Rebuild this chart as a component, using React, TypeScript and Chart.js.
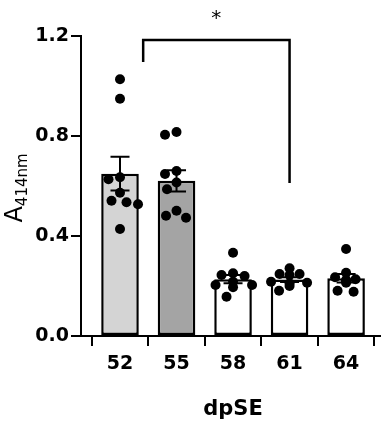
import React, { useEffect, useRef } from 'react';
import { Chart, registerables } from 'chart.js';

Chart.register(...registerables);

// ---- data ----
const categories = ['52', '55', '58', '61', '64'];
const values52 = [1.027, 0.949, 0.635, 0.627, 0.573, 0.541, 0.535, 0.527, 0.428];
const values55 = [0.816, 0.805, 0.66, 0.648, 0.614, 0.587, 0.501, 0.481, 0.473];
const values58 = [0.333, 0.251, 0.244, 0.24, 0.217, 0.204, 0.204, 0.195, 0.157];
const values61 = [0.271, 0.248, 0.248, 0.244, 0.217, 0.213, 0.211, 0.2, 0.181];
const values64 = [0.348, 0.253, 0.235, 0.227, 0.224, 0.22, 0.213, 0.181, 0.177];
const groups = [values52, values55, values58, values61, values64];
const barColors = ['#d4d4d4', '#a4a4a4', '#ffffff', '#ffffff', '#ffffff'];
const yTicks = [0, 0.4, 0.8, 1.2];
const xTitle = 'dpSE';
const yTitleMain = 'A';
const yTitleSub = '414nm';
// significance bracket: from between 52/55 to 61
const sigStart = 0.41;
const sigEnd = 3;
const sigTop = 1.184;
const sigLeftBottom = 1.096;
const sigRightBottom = 0.612;
const sigLabel = '*';
const sigLabelValue = 1.284;

const FONT = "'DejaVu Sans', 'Liberation Sans', Arial, sans-serif";

const mean = (a: number[]) => a.reduce((s, v) => s + v, 0) / a.length;
const sem = (a: number[]) => {
  const m = mean(a);
  const v = a.reduce((s, x) => s + (x - m) * (x - m), 0) / (a.length - 1);
  return Math.sqrt(v) / Math.sqrt(a.length);
};

// simple beeswarm: offsets in category units
function swarm(vals: number[], pxPerX: number, pxPerY: number, dist: number) {
  const order = vals.map((v, i) => i).sort((a, b) => vals[b] - vals[a]);
  const placed: { x: number; y: number }[] = [];
  const out: number[] = new Array(vals.length).fill(0);
  for (const i of order) {
    const y = vals[i] * pxPerY;
    let best = 0;
    const candidates: number[] = [0];
    for (let k = 1; k < 40; k++) {
      candidates.push(-k * 0.5, k * 0.5);
    }
    for (const c of candidates) {
      const ok = placed.every((p) => Math.hypot(p.x - c, p.y - y) >= dist);
      if (ok) {
        best = c;
        break;
      }
    }
    placed.push({ x: best, y });
    out[i] = best / pxPerX;
  }
  return out;
}

export default function App() {
  const ref = useRef<HTMLCanvasElement | null>(null);

  useEffect(() => {
    if (!ref.current) return;
    const means = groups.map(mean);
    const sems = groups.map(sem);
    const points: { x: number; y: number }[] = [];
    groups.forEach((g, gi) => {
      const offs = swarm(g, 56.5, 250, 11.5);
      g.forEach((v, j) => points.push({ x: gi + offs[j], y: v }));
    });

    const errorBars = {
      id: 'errorBars',
      afterDatasetDraw(chart: any, args: any) {
        if (args.index !== 0) return;
        const ctx = chart.ctx;
        const ys = chart.scales.y;
        const meta = chart.getDatasetMeta(0);
        ctx.save();
        ctx.strokeStyle = '#000';
        ctx.lineWidth = 2;
        meta.data.forEach((el: any, i: number) => {
          const x = el.x;
          const top = ys.getPixelForValue(means[i] + sems[i]);
          const bot = ys.getPixelForValue(means[i] - sems[i]);
          const cap = 9.5;
          ctx.beginPath();
          ctx.moveTo(x, top);
          ctx.lineTo(x, bot);
          ctx.moveTo(x - cap, top);
          ctx.lineTo(x + cap, top);
          ctx.moveTo(x - cap, bot);
          ctx.lineTo(x + cap, bot);
          ctx.stroke();
        });
        ctx.restore();
      },
    };

    const annotations = {
      id: 'annotations',
      afterDraw(chart: any) {
        const ctx = chart.ctx;
        const xs = chart.scales.x;
        const ys = chart.scales.y;
        ctx.save();
        // bracket
        ctx.strokeStyle = '#000';
        ctx.lineWidth = 2.5;
        ctx.beginPath();
        const x0 = xs.getPixelForValue(sigStart);
        const x1 = xs.getPixelForValue(sigEnd);
        const yt = ys.getPixelForValue(sigTop);
        ctx.moveTo(x0, ys.getPixelForValue(sigLeftBottom));
        ctx.lineTo(x0, yt);
        ctx.lineTo(x1, yt);
        ctx.lineTo(x1, ys.getPixelForValue(sigRightBottom));
        ctx.stroke();
        ctx.fillStyle = '#000';
        ctx.font = `20px ${FONT}`;
        ctx.textAlign = 'center';
        ctx.textBaseline = 'middle';
        ctx.fillText(sigLabel, (x0 + x1) / 2, ys.getPixelForValue(sigLabelValue) + 4);

        // x title
        ctx.font = `bold 21px ${FONT}`;
        ctx.textBaseline = 'middle';
        ctx.fillText(xTitle, xs.getPixelForValue(2), 410);

        // y title with subscript
        ctx.translate(22, 188);
        ctx.rotate(-Math.PI / 2);
        ctx.textAlign = 'left';
        ctx.textBaseline = 'alphabetic';
        ctx.font = `24px ${FONT}`;
        const wA = ctx.measureText(yTitleMain).width;
        ctx.font = `15px ${FONT}`;
        const wS = ctx.measureText(yTitleSub).width;
        const start = -(wA + wS) / 2;
        ctx.font = `24px ${FONT}`;
        ctx.fillText(yTitleMain, start, 0);
        ctx.font = `15px ${FONT}`;
        ctx.fillText(yTitleSub, start + wA, 5);
        ctx.restore();
      },
    };

    const tickFont = { family: FONT, size: 19, weight: 'bold' as const };

    const chart = new Chart(ref.current, {
      type: 'bar',
      data: {
        datasets: [
          {
            type: 'bar',
            data: means.map((m, i) => ({ x: i, y: m })),
            backgroundColor: barColors,
            borderColor: '#000',
            borderWidth: 2.5,
            borderSkipped: false,
            categoryPercentage: 1,
            barPercentage: 0.665,
            order: 2,
          } as any,
          {
            type: 'scatter',
            data: points,
            backgroundColor: '#000',
            borderWidth: 0,
            pointRadius: 5,
            order: 1,
          } as any,
        ],
      },
      options: {
        responsive: false,
        animation: false,
        devicePixelRatio: 1,
        layout: { padding: { top: 36, right: 5, left: 0, bottom: 0 } },
        plugins: { legend: { display: false }, tooltip: { enabled: false } },
        scales: {
          x: {
            type: 'linear',
            min: -0.69,
            max: 4.6,
            offset: false,
            afterBuildTicks: (s: any) => {
              s.ticks = categories.map((_, i) => ({ value: i }));
            },
            afterFit: (s: any) => {
              s.height = 98;
            },
            ticks: {
              callback: (_v: any, i: number) => categories[i],
              font: tickFont,
              color: '#000',
              padding: 7,
              maxRotation: 0,
              autoSkip: false,
            },
            grid: {
              drawOnChartArea: false,
              drawTicks: true,
              tickLength: 10,
              color: '#000',
              lineWidth: 2,
            },
            border: { color: '#000', width: 2 },
          },
          y: {
            type: 'linear',
            min: 0,
            max: 1.2,
            afterBuildTicks: (s: any) => {
              s.ticks = yTicks.map((v) => ({ value: v }));
            },
            afterFit: (s: any) => {
              s.width = 81;
            },
            ticks: {
              callback: (v: any) => Number(v).toFixed(1),
              font: tickFont,
              color: '#000',
              padding: 2,
            },
            grid: {
              drawOnChartArea: false,
              drawTicks: true,
              tickLength: 10,
              color: '#000',
              lineWidth: 2,
            },
            border: { color: '#000', width: 2 },
          },
        },
      },
      plugins: [errorBars, annotations],
    } as any);
    return () => chart.destroy();
  }, []);

  return (
    <div style={{ position: 'absolute', left: 0, top: 0, width: 385, height: 434, background: '#fff' }}>
      <canvas ref={ref} width={385} height={434} style={{ display: 'block' }} />
    </div>
  );
}
